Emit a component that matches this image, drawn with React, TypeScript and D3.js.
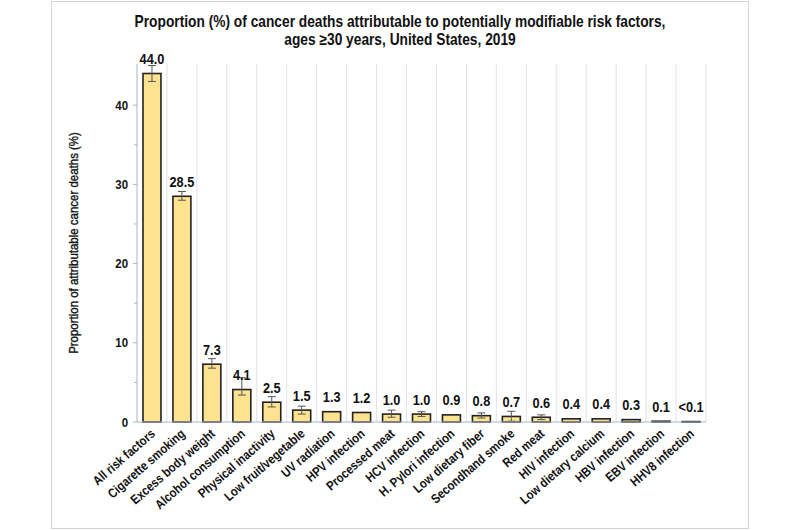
import React from "react";
import * as d3 from "d3";

const categories = [
  "All risk factors",
  "Cigarette smoking",
  "Excess body weight",
  "Alcohol consumption",
  "Physical inactivity",
  "Low fruit/vegetable",
  "UV radiation",
  "HPV infection",
  "Processed meat",
  "HCV infection",
  "H. Pylori infection",
  "Low dietary fiber",
  "Secondhand smoke",
  "Red meat",
  "HIV infection",
  "Low dietary calcium",
  "HBV infection",
  "EBV infection",
  "HHV8 infection",
];
const values = [44.0, 28.5, 7.3, 4.1, 2.5, 1.5, 1.3, 1.2, 1.0, 1.0, 0.9, 0.8, 0.7, 0.6, 0.4, 0.4, 0.3, 0.1, 0.05];
const valueLabels = ["44.0", "28.5", "7.3", "4.1", "2.5", "1.5", "1.3", "1.2", "1.0", "1.0", "0.9", "0.8", "0.7", "0.6", "0.4", "0.4", "0.3", "0.1", "<0.1"];
const errLow: (number | null)[] = [43.0, 28.0, 6.8, 3.4, 1.9, 1.0, null, null, 0.6, 0.7, null, 0.5, 0.1, 0.3, null, null, null, null, null];
const errHigh: (number | null)[] = [45.0, 29.1, 8.0, 5.6, 3.2, 2.0, null, null, 1.5, 1.3, null, 1.15, 1.35, 0.9, null, null, null, null, null];
const majorTicks = [0, 10, 20, 30, 40];
const minorTicks = [5, 15, 25, 35];
const titleLines = [
  "Proportion (%) of cancer deaths attributable to potentially modifiable risk factors,",
  "ages \u226530 years, United States, 2019",
];
const yTitle = "Proportion of attributable cancer deaths (%)";

const FONT = "'Liberation Sans', Arial, sans-serif";

export default function App() {
  const W = 800, H = 530;
  const plot = { left: 137, right: 706, top: 64, bottom: 422 };
  const x = d3.scaleBand<string>().domain(categories).range([plot.left, plot.right]).paddingInner(0.4).paddingOuter(0.2);
  const y = d3.scaleLinear().domain([0, 45.2]).range([plot.bottom, plot.top]);
  const band = d3.scaleBand<string>().domain(categories).range([plot.left, plot.right]);
  const bw = x.bandwidth();

  return (
    <svg width={W} height={H} style={{ position: "absolute", left: 0, top: 0, background: "#fff" }} fontFamily={FONT}>
      <rect x={51.5} y={1.5} width={697} height={527} fill="#fff" stroke="#d4d4d4" strokeWidth={1} />
      {titleLines.map((t, i) => (
        <text key={i} transform={`translate(400, ${27 + i * 17.5}) scale(0.86, 1)`} textAnchor="middle" fontSize={16} fontWeight="bold" fill="#111">
          {t}
        </text>
      ))}
      {/* vertical gridlines */}
      {categories.map((c) => {
        const gx = (band(c) as number) + band.bandwidth();
        return <line key={"g" + c} x1={gx} x2={gx} y1={plot.top} y2={plot.bottom} stroke="#e2e2e2" strokeWidth={1} />;
      })}
      {/* y axis */}
      <line x1={plot.left} x2={plot.left} y1={plot.top} y2={plot.bottom} stroke="#aab6c8" strokeWidth={1} />
      {majorTicks.map((t) => (
        <g key={"t" + t}>
          <line x1={plot.left - 4} x2={plot.left} y1={y(t)} y2={y(t)} stroke="#aab6c8" />
          <text transform={`translate(${plot.left - 9}, ${y(t)}) scale(0.88, 1)`} dy="0.35em" textAnchor="end" fontSize={13} fontWeight="bold" fill="#111">
            {t}
          </text>
        </g>
      ))}
      {minorTicks.map((t) => (
        <line key={"m" + t} x1={plot.left - 3} x2={plot.left} y1={y(t)} y2={y(t)} stroke="#aab6c8" />
      ))}
      <text
        transform={`translate(78, ${(plot.top + plot.bottom) / 2}) rotate(-90) scale(0.85, 1)`}
        textAnchor="middle"
        fontSize={13.5}
        fill="#111"
        stroke="#111"
        strokeWidth={0.35}
      >
        {yTitle}
      </text>
      {/* bars */}
      {categories.map((c, i) => {
        const bx = x(c) as number;
        return (
          <rect key={"b" + c} x={bx} y={y(values[i])} width={bw} height={plot.bottom - y(values[i])} fill="#fde28f" stroke="#222" strokeWidth={1.6} />
        );
      })}
      {/* error bars */}
      {categories.map((c, i) => {
        if (errLow[i] == null || errHigh[i] == null) return null;
        const cx = (x(c) as number) + bw / 2;
        const y1 = y(errHigh[i] as number), y2 = y(errLow[i] as number);
        return (
          <g key={"e" + c} stroke="#555" strokeWidth={1}>
            <line x1={cx} x2={cx} y1={y1} y2={y2} />
            <line x1={cx - 4} x2={cx + 4} y1={y1} y2={y1} />
            <line x1={cx - 4} x2={cx + 4} y1={y2} y2={y2} />
          </g>
        );
      })}
      {/* x axis */}
      <line x1={plot.left} x2={plot.right} y1={plot.bottom} y2={plot.bottom} stroke="#aab6c8" strokeWidth={1} />
      {/* value labels */}
      {categories.map((c, i) => (
        <text key={"v" + c} transform={`translate(${(x(c) as number) + bw / 2}, ${y(values[i]) - 9.5}) scale(0.88, 1)`} textAnchor="middle" fontSize={14.5} fontWeight="bold" fill="#111">
          {valueLabels[i]}
        </text>
      ))}
      {/* x labels */}
      {categories.map((c) => {
        const cx = (x(c) as number) + bw / 2 + 4;
        return (
          <text key={"x" + c} transform={`translate(${cx}, ${plot.bottom + 13}) rotate(-41) scale(0.86, 1)`} textAnchor="end" fontSize={13} fontWeight="bold" fill="#111">
            {c}
          </text>
        );
      })}
    </svg>
  );
}
